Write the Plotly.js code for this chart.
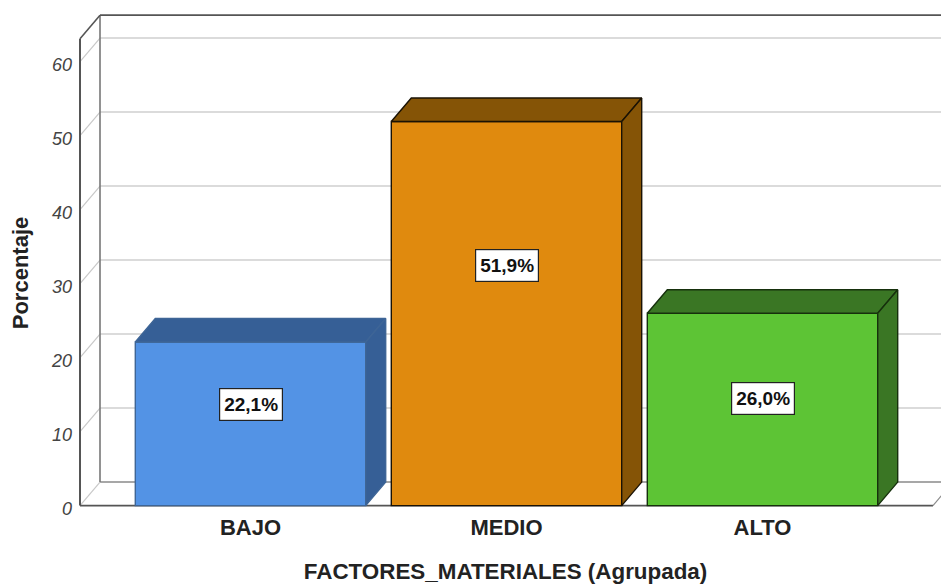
<!DOCTYPE html>
<html>
<head>
<meta charset="utf-8">
<script src="https://cdn.plot.ly/plotly-3.0.1.min.js"></script>
<style>html,body{margin:0;padding:0;background:#fff}#chart{width:941px;height:586px}</style>
</head>
<body>
<div id="chart"></div>
<script>
var categories = ["BAJO", "MEDIO", "ALTO"];
var values = [22.1, 51.9, 26.0];
var labels = ["22,1%", "51,9%", "26,0%"];
var labelHeights = [13.7, 32.5, 14.5];
var faceColors = ["#5393E5", "#E08A0E", "#5DC435"];
var shadeColors = ["#365F96", "#855406", "#3A7624"];
var edgeColors = ["#3E6596", "#1a1204", "#16300c"];
var yTicks = [0, 10, 20, 30, 40, 50, 60];

var FONT = "Liberation Sans, Arial, sans-serif";
var barWidth = 0.9;
var depthX = 20 / 256;
var depthY = 23.5 / 7.4;
var wallLeft = -0.666;
var wallRight = 2.666;
var wallTop = 63.1;
var xRange = [-0.70508, 2.69727];
var yRange = [-5.46, 68.324];

var traces = [{
  type: "bar",
  x: [0, 1, 2],
  y: values,
  width: barWidth,
  marker: {color: faceColors, line: {color: edgeColors, width: 1.4}},
  hoverinfo: "skip",
  showlegend: false
}];

values.forEach(function (v, i) {
  var l = i - barWidth / 2, r = i + barWidth / 2;
  traces.push({
    type: "scatter", mode: "lines", fill: "toself", fillcolor: shadeColors[i],
    x: [l, l + depthX, r + depthX, r, l],
    y: [v, v + depthY, v + depthY, v, v],
    line: {color: edgeColors[i], width: 1.4},
    hoverinfo: "skip", showlegend: false, cliponaxis: false
  });
  traces.push({
    type: "scatter", mode: "lines", fill: "toself", fillcolor: shadeColors[i],
    x: [r, r + depthX, r + depthX, r, r],
    y: [v, v + depthY, depthY, 0, v],
    line: {color: edgeColors[i], width: 1.4},
    hoverinfo: "skip", showlegend: false, cliponaxis: false
  });
});

function seg(x0, y0, x1, y1, color, width) {
  return {type: "line", layer: "below", xref: "x", yref: "y",
          x0: x0, y0: y0, x1: x1, y1: y1, line: {color: color, width: width}};
}

var shapes = [];
yTicks.forEach(function (t) {
  var c = t === 0 ? "#8a8a8a" : "#cfcfcf";
  shapes.push(seg(wallLeft + depthX, t + depthY, wallRight + depthX, t + depthY, c, 1.5));
  shapes.push(seg(wallLeft, t, wallLeft + depthX, t + depthY, "#c8c8c8", 1.2));
});
shapes.push(seg(wallLeft + depthX, depthY, wallLeft + depthX, wallTop + depthY, "#777777", 1.6));
shapes.push(seg(wallLeft + depthX, wallTop + depthY, wallRight + depthX, wallTop + depthY, "#555555", 1.6));
shapes.push(seg(wallLeft, wallTop, wallLeft + depthX, wallTop + depthY, "#555555", 1.6));
shapes.push(seg(wallLeft, 0, wallLeft, wallTop, "#555555", 2));
shapes.push(seg(wallLeft, 0, wallRight, 0, "#555555", 1.6));
shapes.push(seg(wallRight, 0, wallRight + depthX, depthY, "#8a8a8a", 1.2));

var annotations = labels.map(function (t, i) {
  return {
    x: i, y: labelHeights[i], xref: "x", yref: "y", text: t, showarrow: false,
    height: 25, width: 56,
    font: {family: FONT, size: 19, color: "#111111", weight: "bold"},
    bgcolor: "#ffffff", bordercolor: "#222222", borderwidth: 1.2, borderpad: 3
  };
});

var layout = {
  width: 941, height: 586,
  margin: {l: 70, r: 0, t: 0, b: 40, pad: 0},
  paper_bgcolor: "#ffffff", plot_bgcolor: "#ffffff",
  bargap: 0,
  showlegend: false,
  shapes: shapes,
  annotations: annotations,
  xaxis: {
    type: "linear", range: xRange, tickmode: "array", tickvals: [0, 1, 2], ticktext: categories,
    showgrid: false, zeroline: false, showline: false, ticks: "",
    ticklabelstandoff: -34,
    tickfont: {family: FONT, size: 22, color: "#222222", weight: "bold"},
    title: {text: "FACTORES_MATERIALES (Agrupada)", standoff: 24,
            font: {family: FONT, size: 22.4, color: "#222222", weight: "bold"}}
  },
  yaxis: {
    range: yRange, tickmode: "array", tickvals: yTicks, ticktext: yTicks.map(String),
    showgrid: false, zeroline: false, showline: false, ticks: "",
    ticklabelstandoff: -3, ticklabelshift: 3,
    tickfont: {family: FONT, size: 18, color: "#444444", style: "italic"},
    title: {text: "Porcentaje", standoff: 16,
            font: {family: FONT, size: 22, color: "#222222", weight: "bold"}}
  }
};

Plotly.newPlot("chart", traces, layout, {displayModeBar: false, staticPlot: true});
</script>
</body>
</html>
